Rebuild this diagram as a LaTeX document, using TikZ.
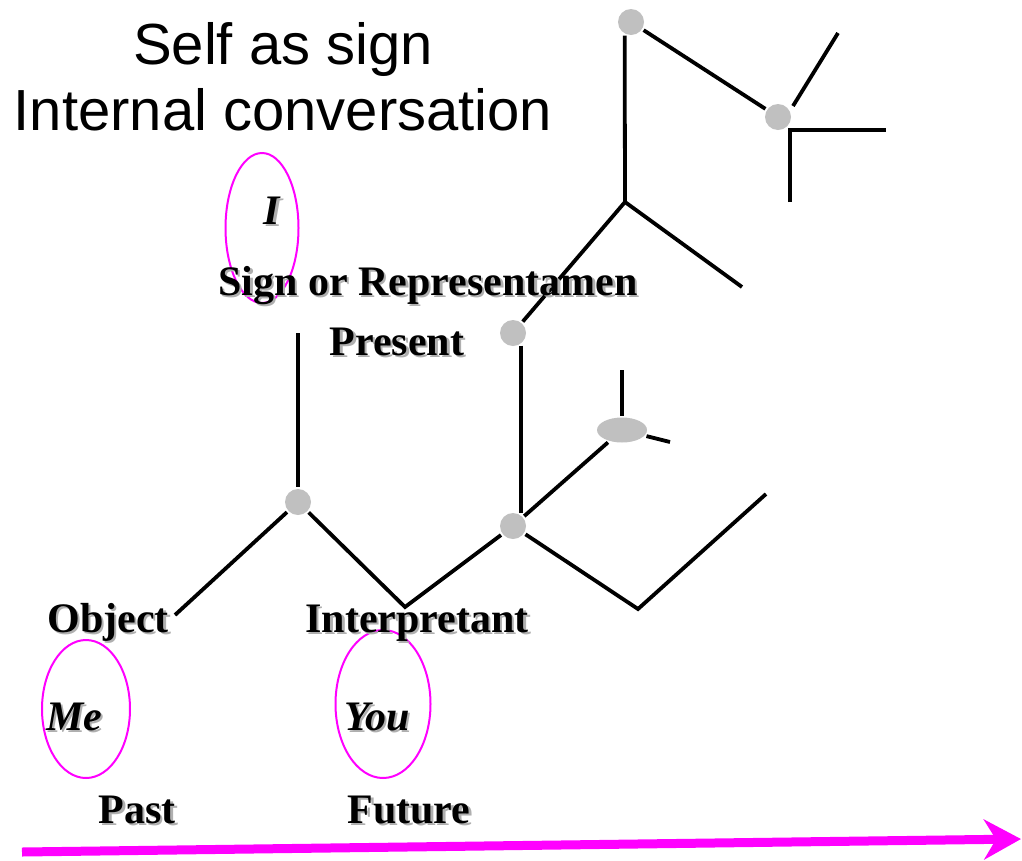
\documentclass[tikz,border=0pt]{standalone}
\usepackage{fontspec}
\setmainfont{Liberation Serif}
\newfontfamily\titlefont{Liberation Sans}
\usetikzlibrary{arrows.meta,shapes.geometric}
\definecolor{dotgray}{RGB}{192,192,192}
\definecolor{shgray}{RGB}{175,175,175}
\definecolor{mag}{RGB}{255,0,255}
\newcommand\shd[1]{\rlap{\kern2.5pt\raisebox{-2.5pt}{\textcolor{shgray}{#1}}}#1}
\begin{document}
\begin{tikzpicture}[x=1pt,y=-1pt,
  stick/.style={line width=3.8pt,black},
  dot/.style={circle,fill=dotgray,minimum size=26pt,inner sep=0pt,outer sep=2pt},
  flatdot/.style={ellipse,fill=dotgray,minimum width=50pt,minimum height=25pt,inner sep=0pt,outer sep=2pt},
  ring/.style={ellipse,draw=mag,line width=2pt,inner sep=0pt},
  lbl/.style={anchor=base,inner sep=0pt,font=\fontsize{42}{48}\selectfont\bfseries},
  ilbl/.style={lbl,font=\fontsize{42}{48}\selectfont\bfseries\itshape},
  title/.style={anchor=base,inner sep=0pt,font=\titlefont\fontsize{58}{66}\selectfont}]
\useasboundingbox (0,0) rectangle (1022,860);

% title
\node[title] (t1) at (283,64) {Self as sign};
\node[title] (t2) at (283,130) {Internal conversation};

% dots
\node[dot] (A) at (298,502) {};
\node[dot] (B) at (513,526) {};
\node[dot] (C) at (513,333) {};
\node[dot] (D) at (631,22) {};
\node[dot] (E) at (778,117) {};
\node[flatdot] (F) at (622,430) {};

% free ends
\coordinate (A0) at (298,333);
\coordinate (A1) at (175,615);
\coordinate (V1) at (405,607);
\coordinate (J) at (625,202);
\coordinate (J2) at (742,287);
\coordinate (E1) at (790,202);
\coordinate (E2) at (790,130);
\coordinate (E3) at (886,130);
\coordinate (E4) at (793,106);
\coordinate (E5) at (838,33);
\coordinate (F1) at (622,370);
\coordinate (F2) at (670,442);
\coordinate (B1) at (638,609);
\coordinate (B2) at (766,494);

% sticks
\draw[stick] (A0) -- (A);
\draw[stick] (A) -- (A1);
\draw[stick] (A) -- (V1) -- (B);
\draw[stick] (C.-58) -- (B.58);
\draw[stick] (C) -- (J);
\draw[stick] (J) -- (J2);
\draw[stick] (J) -- (D.-115);
\draw[stick] (D) -- (E);
\draw[stick] (E4) -- (E5);
\draw[stick] (E1) -- (E2) -- (E3);
\draw[stick] (B) -- (F);
\draw[stick] (F1) -- (F.north);
\draw[stick] (F) -- (F2);
\draw[stick] (B) -- (B1) -- (B2);

% magenta rings
\node[ring,minimum width=73pt,minimum height=150pt] (rI) at (262,228) {};
\node[ring,minimum width=88pt,minimum height=138pt] (rMe) at (86,709) {};
\node[ring,minimum width=95pt,minimum height=148pt] (rYou) at (383,704) {};

% labels
\node[ilbl] (lI) at (272,224) {\shd{I}};
\node[lbl] (lSign) at (428,295) {\shd{Sign or Representamen}};
\node[lbl] (lPres) at (397,355) {\shd{Present}};
\node[lbl] (lObj) at (108,632) {\shd{Object}};
\node[lbl] (lInt) at (417,632) {\shd{Interpretant}};
\node[ilbl] (lMe) at (74,730) {\shd{Me}};
\node[ilbl] (lYou) at (377,730) {\shd{You}};
\node[lbl] (lPast) at (137,823) {\shd{Past}};
\node[lbl] (lFut) at (409,823) {\shd{Future}};

% time arrow
\coordinate (ar0) at (22,852);
\coordinate (ar1) at (1021,839);
\draw[mag,line width=9pt,-{Stealth[length=37pt,width=40pt,inset=12pt]}] (ar0) -- (ar1);
\end{tikzpicture}
\end{document}
